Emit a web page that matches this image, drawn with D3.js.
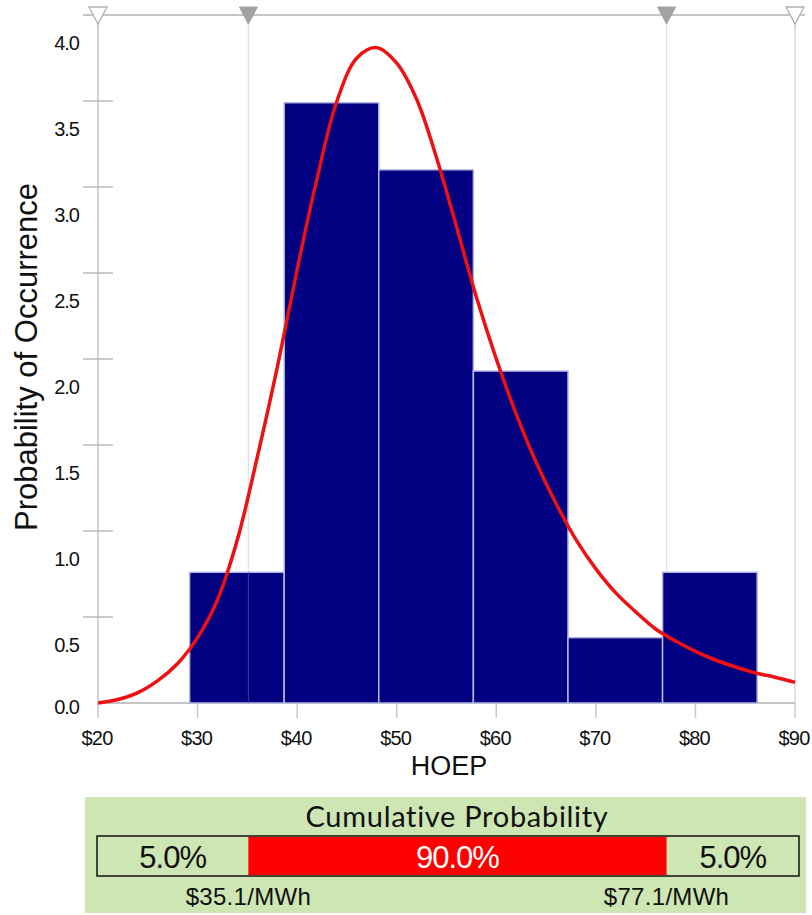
<!DOCTYPE html>
<html>
<head>
<meta charset="utf-8">
<script src="https://cdn.jsdelivr.net/npm/d3@7"></script>
<style>
  body { margin: 0; background: #fff; }
  text { font-family: "Liberation Sans", Arial, sans-serif; fill: #111; }
</style>
</head>
<body>
<div class="graph"></div>
<script>
// histogram bins (HOEP $/MWh) and their heights
var binEdges = [29.2, 38.7, 48.2, 57.7, 67.2, 76.7, 86.2];
var binValues = [0.76, 3.49, 3.10, 1.93, 0.38, 0.76];

// fitted curve
var curveX = [20, 22, 24, 26, 28, 30, 32, 34, 36, 38, 40, 42, 44, 46, 48, 50, 52, 54, 56, 58, 60, 62, 64, 66, 68, 70, 72, 74, 76, 78, 80, 82, 84, 86, 88, 90];
var curveY = [0.0, 0.02, 0.06, 0.13, 0.23, 0.38, 0.60, 0.95, 1.43, 1.95, 2.52, 3.05, 3.50, 3.75, 3.81, 3.72, 3.51, 3.17, 2.77, 2.36, 2.00, 1.68, 1.40, 1.16, 0.95, 0.78, 0.64, 0.53, 0.43, 0.36, 0.30, 0.25, 0.21, 0.175, 0.15, 0.12];

var xTicks = [20, 30, 40, 50, 60, 70, 80, 90];
var yTicks = [0, 0.5, 1.0, 1.5, 2.0, 2.5, 3.0, 3.5, 4.0];

var cutoffs = [35.1, 77.1];
var cumLabels = ["5.0%", "90.0%", "5.0%"];
var cutoffLabels = ["$35.1/MWh", "$77.1/MWh"];

var width = 812, height = 915;

var svg = d3.select(".graph").append("svg")
    .attr("width", width)
    .attr("height", height);

var x = d3.scaleLinear().domain([20, 90]).range([98, 795]);
var y = d3.scaleLinear().domain([0, 4]).range([703, 15]);

var axisColor = "#c4c4c4";

// top line
svg.append("line")
    .attr("x1", 83).attr("x2", 805)
    .attr("y1", y(4)).attr("y2", y(4))
    .attr("stroke", axisColor).attr("stroke-width", 2);

// cutoff guide lines
svg.selectAll(".guide")
  .data(cutoffs)
  .enter().append("line")
    .attr("class", "guide")
    .attr("x1", function(d) { return x(d); })
    .attr("x2", function(d) { return x(d); })
    .attr("y1", y(4)).attr("y2", y(0))
    .attr("stroke", "#e2e2e2").attr("stroke-width", 1.2);

// left axis line and right edge
svg.append("line")
    .attr("x1", x(20)).attr("x2", x(20))
    .attr("y1", y(4)).attr("y2", y(0))
    .attr("stroke", axisColor).attr("stroke-width", 1.5);
svg.append("line")
    .attr("x1", x(90)).attr("x2", x(90))
    .attr("y1", y(4)).attr("y2", y(0))
    .attr("stroke", "#d6d6d6").attr("stroke-width", 1.5);

// baseline
svg.append("line")
    .attr("x1", x(20)).attr("x2", x(90))
    .attr("y1", y(0)).attr("y2", y(0))
    .attr("stroke", axisColor).attr("stroke-width", 2);

// y ticks (marks cross the axis)
svg.selectAll(".ytick")
  .data(yTicks.filter(function(d) { return d > 0 && d < 4; }))
  .enter().append("line")
    .attr("class", "ytick")
    .attr("x1", 83).attr("x2", 113)
    .attr("y1", function(d) { return y(d); })
    .attr("y2", function(d) { return y(d); })
    .attr("stroke", "#b8b8b8").attr("stroke-width", 1.5);

// y labels sit a bit below their tick, as in the original
svg.selectAll(".ylabel")
  .data(yTicks)
  .enter().append("text")
    .attr("class", "ylabel")
    .attr("x", 79)
    .attr("y", function(d) { return y(d) + (d == 0 ? 3.5 : 28); })
    .attr("dy", "0.35em")
    .attr("text-anchor", "end")
    .attr("font-size", 20)
    .attr("letter-spacing", -1)
    .text(function(d) { return d3.format(".1f")(d); });

// x ticks
svg.selectAll(".xtick")
  .data(xTicks)
  .enter().append("line")
    .attr("class", "xtick")
    .attr("x1", function(d) { return x(d); })
    .attr("x2", function(d) { return x(d); })
    .attr("y1", y(0)).attr("y2", 718)
    .attr("stroke", "#c8c8c8").attr("stroke-width", 1.5);

svg.selectAll(".xlabel")
  .data(xTicks)
  .enter().append("text")
    .attr("class", "xlabel")
    .attr("x", function(d) { return x(d) - 1; })
    .attr("y", 745)
    .attr("text-anchor", "middle")
    .attr("font-size", 20)
    .attr("letter-spacing", -0.8)
    .text(function(d) { return "$" + d; });

// bars
var bins = binValues.map(function(v, i) {
  return {x0: binEdges[i], x1: binEdges[i + 1], value: v};
});

svg.selectAll(".bar")
  .data(bins)
  .enter().append("rect")
    .attr("class", "bar")
    .attr("x", function(d) { return x(d.x0); })
    .attr("width", function(d) { return x(d.x1) - x(d.x0); })
    .attr("y", function(d) { return y(d.value); })
    .attr("height", function(d) { return y(0) - y(d.value); })
    .attr("fill", "#000080")
    .attr("stroke", "#b4b8e0")
    .attr("stroke-width", 1.5);

// the guide line shows through the first bar
svg.append("line")
    .attr("x1", x(cutoffs[0])).attr("x2", x(cutoffs[0]))
    .attr("y1", y(binValues[0])).attr("y2", y(0))
    .attr("stroke", "#3a3aa0").attr("stroke-width", 1);

// fitted curve
var line = d3.line()
    .x(function(d) { return x(d[0]); })
    .y(function(d) { return y(d[1]); })
    .curve(d3.curveCatmullRom.alpha(0.5));

svg.append("path")
    .datum(d3.zip(curveX, curveY))
    .attr("d", line)
    .attr("fill", "none")
    .attr("stroke", "#ee1111")
    .attr("stroke-width", 3.5);

// marker triangles on the top line
function tri(cx) {
  return "M" + (cx - 9) + ",7 L" + (cx + 9) + ",7 L" + cx + ",24 Z";
}
svg.selectAll(".openTri")
  .data([20, 90])
  .enter().append("path")
    .attr("d", function(d) { return tri(x(d)); })
    .attr("fill", "#fff")
    .attr("stroke", "#b0b0b0")
    .attr("stroke-width", 1.3);
svg.selectAll(".fillTri")
  .data(cutoffs)
  .enter().append("path")
    .attr("d", function(d) { return tri(x(d)); })
    .attr("fill", "#a2a2a2")
    .attr("stroke", "#a2a2a2")
    .attr("stroke-width", 1);

// axis titles
svg.append("text")
    .attr("transform", "translate(37," + 357 + ") rotate(-90)")
    .attr("text-anchor", "middle")
    .attr("font-size", 31)
    .text("Probability of Occurrence");

svg.append("text")
    .attr("x", 449)
    .attr("y", 775)
    .attr("text-anchor", "middle")
    .attr("font-size", 27)
    .text("HOEP");

// ****************** cumulative probability panel ******************
var panel = svg.append("g");

panel.append("rect")
    .attr("x", 85).attr("y", 797)
    .attr("width", 721).attr("height", 116)
    .attr("fill", "#cde6b4");

panel.append("text")
    .attr("x", 457).attr("y", 827)
    .attr("text-anchor", "middle")
    .attr("font-size", 29)
    .attr("letter-spacing", 0.7)
    .style("font-family", "Lato, 'Open Sans', sans-serif")
    .text("Cumulative Probability");

var boxL = 97, boxR = 799, boxT = 836, boxB = 876;

panel.append("rect")
    .attr("x", boxL).attr("y", boxT)
    .attr("width", boxR - boxL).attr("height", boxB - boxT)
    .attr("fill", "#cde6b4")
    .attr("stroke", "#111").attr("stroke-width", 1.5);

panel.append("rect")
    .attr("x", x(cutoffs[0])).attr("y", boxT + 1)
    .attr("width", x(cutoffs[1]) - x(cutoffs[0]))
    .attr("height", boxB - boxT - 2)
    .attr("fill", "#ff0000");

var segCenters = [(boxL + x(cutoffs[0])) / 2, (x(cutoffs[0]) + x(cutoffs[1])) / 2, (x(cutoffs[1]) + boxR) / 2];

panel.selectAll(".pct")
  .data(cumLabels)
  .enter().append("text")
    .attr("class", "pct")
    .attr("x", function(d, i) { return segCenters[i]; })
    .attr("y", 868)
    .attr("text-anchor", "middle")
    .attr("font-size", 31)
    .attr("letter-spacing", -1)
    .style("font-family", "'Liberation Sans Narrow', 'Liberation Sans', sans-serif")
    .style("fill", function(d, i) { return i == 1 ? "#fff" : "#111"; })
    .text(function(d) { return d; });

panel.selectAll(".cut")
  .data(cutoffLabels)
  .enter().append("text")
    .attr("class", "cut")
    .attr("x", function(d, i) { return x(cutoffs[i]); })
    .attr("y", 905)
    .attr("text-anchor", "middle")
    .attr("font-size", 24)
    .attr("letter-spacing", 0.3)
    .text(function(d) { return d; });
</script>
</body>
</html>
